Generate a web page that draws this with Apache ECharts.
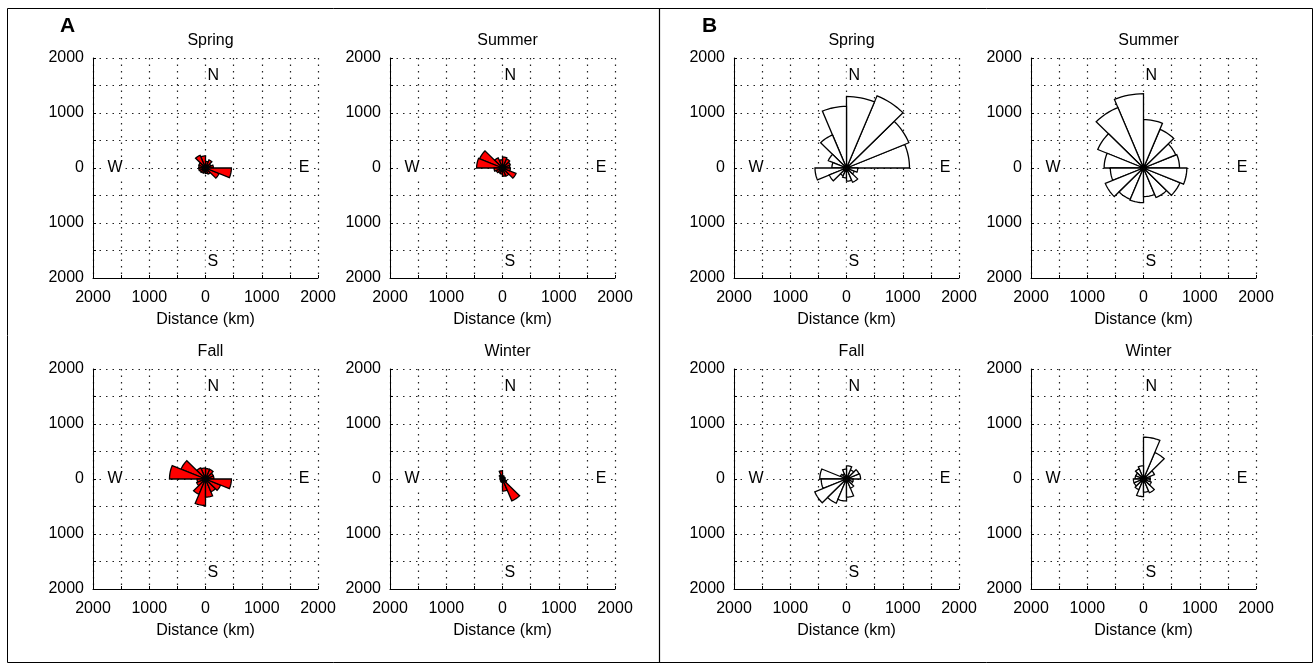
<!DOCTYPE html>
<html>
<head>
<meta charset="utf-8">
<script src="https://cdn.jsdelivr.net/npm/echarts@6/dist/echarts.min.js"></script>
<style>
  html, body { margin: 0; padding: 0; background: #fff; }
  #chart { width: 1316px; height: 664px; }
</style>
</head>
<body>
<div id="chart"></div>
<script>
// rose bins: 16 sectors of 22.5 deg, counter-clockwise starting at east
const binCount = 16;
const binWidth = 360 / binCount;

// radius of each sector (km), bin 0 = 0..22.5 deg
const springA = [140, 100, 160, 120, 220, 250, 130, 120, 120, 110, 100, 90, 100, 120, 260, 460];
const summerA = [130, 150, 180, 200, 150, 200, 440, 460, 150, 120, 100, 110, 150, 160, 260, 140];
const fallA   = [150, 150, 190, 190, 200, 220, 470, 640, 150, 170, 300, 480, 330, 250, 290, 460];
const winterA = [40, 50, 40, 60, 150, 80, 50, 40, 40, 40, 50, 60, 220, 430, 80, 40];

const springB = [1120, 1200, 1420, 1300, 1120, 650, 350, 260, 560, 330, 150, 180, 240, 280, 150, 200];
const summerB = [640, 620, 760, 880, 1350, 1190, 880, 700, 590, 735, 615, 630, 520, 580, 700, 770];
const fallB   = [250, 240, 180, 240, 180, 100, 120, 475, 450, 610, 475, 400, 330, 180, 120, 120];
const winterB = [120, 210, 520, 760, 240, 200, 150, 150, 180, 180, 210, 320, 240, 270, 150, 120];

const tickValues = [-2000, -1000, 0, 1000, 2000];
const tickLabels = ['2000', '1000', '0', '1000', '2000'];

// compass letters: text, x, y (km), left aligned
const compass = [['N', 0, 1680], ['S', 0, -1700], ['W', -1780, 0], ['E', 1620, 0]];

const FONT = '"Liberation Sans", Arial, sans-serif';
const RED = '#ff0000';

const plots = [
  { title: 'Spring', left: 93,   top: 58,  values: springA, fill: RED },
  { title: 'Summer', left: 390,  top: 58,  values: summerA, fill: RED },
  { title: 'Fall',   left: 93,   top: 369, values: fallA,   fill: RED },
  { title: 'Winter', left: 390,  top: 369, values: winterA, fill: RED },
  { title: 'Spring', left: 734,  top: 58,  values: springB, fill: '#fff' },
  { title: 'Summer', left: 1031, top: 58,  values: summerB, fill: '#fff' },
  { title: 'Fall',   left: 734,  top: 369, values: fallB,   fill: '#fff' },
  { title: 'Winter', left: 1031, top: 369, values: winterB, fill: '#fff' }
];

const W = 225, H = 220;

function tickText(v) {
  const k = tickValues.indexOf(v);
  return k < 0 ? '' : tickLabels[k];
}

function wedgeRenderer(fill) {
  return function (params, api) {
    const a0 = api.value(0) * Math.PI / 180;
    const a1 = api.value(1) * Math.PI / 180;
    const r = api.value(2);
    const pts = [api.coord([0, 0])];
    const steps = 8;
    for (let s = 0; s <= steps; s++) {
      const a = a0 + (a1 - a0) * s / steps;
      pts.push(api.coord([r * Math.cos(a), r * Math.sin(a)]));
    }
    return {
      type: 'polygon',
      shape: { points: pts },
      style: { fill: fill, stroke: '#000', lineWidth: 1.3, lineJoin: 'miter' }
    };
  };
}

function compassRenderer(params, api) {
  const p = api.coord([api.value(0), api.value(1)]);
  return {
    type: 'text',
    x: p[0],
    y: p[1],
    style: {
      text: compass[params.dataIndex][0],
      fill: '#000',
      font: '16px ' + FONT,
      align: 'left',
      verticalAlign: 'middle',
      backgroundColor: '#fff',
      padding: [1, 2]
    }
  };
}

const grids = [], xAxes = [], yAxes = [], series = [], titles = [];
const splitStyle = { color: '#222', type: [1.5, 5], width: 1.2 };

plots.forEach((p, i) => {
  grids.push({ left: p.left, top: p.top, width: W, height: H, outerBoundsMode: 'none' });
  titles.push({
    text: p.title,
    left: p.left + W / 2,
    top: p.top - 30,
    textAlign: 'center',
    textStyle: { fontFamily: FONT, fontSize: 16, fontWeight: 'normal', color: '#000' }
  });
  const axisCommon = {
    gridIndex: i,
    type: 'value',
    min: -2000,
    max: 2000,
    interval: 500,
    axisLine: { onZero: false, lineStyle: { color: '#000', width: 1 } },
    axisTick: { inside: true, length: 3, lineStyle: { color: '#000' } },
    axisLabel: {
      interval: 0,
      showMinLabel: true,
      showMaxLabel: true,
      formatter: tickText,
      color: '#000',
      fontFamily: FONT,
      fontSize: 16
    },
    splitLine: { show: true, lineStyle: splitStyle }
  };
  xAxes.push(Object.assign({}, axisCommon, {
    name: 'Distance (km)',
    nameLocation: 'middle',
    nameGap: 34,
    nameTextStyle: { color: '#000', fontFamily: FONT, fontSize: 16 },
    axisLabel: Object.assign({}, axisCommon.axisLabel, { margin: 12 })
  }));
  yAxes.push(Object.assign({}, axisCommon, {
    axisLabel: Object.assign({}, axisCommon.axisLabel, { margin: 9 })
  }));

  const wedges = p.values.map((r, k) => [k * binWidth, (k + 1) * binWidth, r]);
  series.push({
    type: 'custom',
    xAxisIndex: i,
    yAxisIndex: i,
    renderItem: compassRenderer,
    data: compass.map(c => [c[1], c[2]]),
    silent: true,
    z: 3
  });
  series.push({
    type: 'custom',
    xAxisIndex: i,
    yAxisIndex: i,
    renderItem: wedgeRenderer(p.fill),
    data: wedges,
    silent: true,
    z: 4
  });
});

const chart = echarts.init(document.getElementById('chart'), null, { renderer: 'canvas' });
chart.setOption({
  animation: false,
  backgroundColor: '#fff',
  title: titles,
  grid: grids,
  xAxis: xAxes,
  yAxis: yAxes,
  series: series,
  graphic: [
    { type: 'rect', shape: { x: 7.5, y: 8.5, width: 1305, height: 654 }, style: { fill: 'none', stroke: '#000', lineWidth: 1 }, silent: true },
    { type: 'line', shape: { x1: 659.5, y1: 8, x2: 659.5, y2: 663 }, style: { stroke: '#000', lineWidth: 1.2 }, silent: true },
    { type: 'text', left: 60, top: 16, style: { text: 'A', font: 'bold 21px ' + FONT, fill: '#000' } },
    { type: 'text', left: 702, top: 16, style: { text: 'B', font: 'bold 21px ' + FONT, fill: '#000' } }
  ]
});
</script>
</body>
</html>
